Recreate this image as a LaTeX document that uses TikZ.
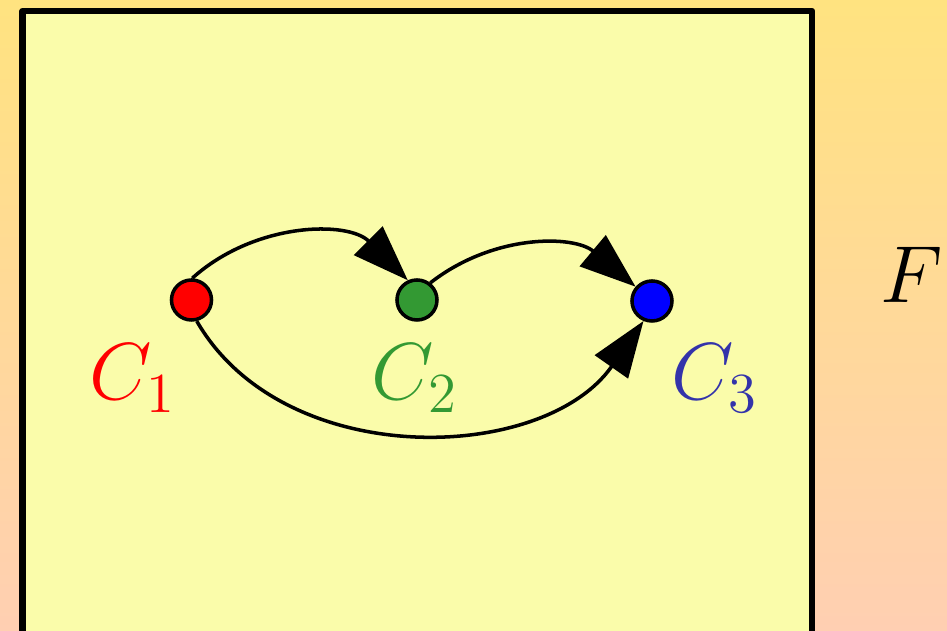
\documentclass[tikz,border=0pt]{standalone}
\usepackage{fix-cm}
\usetikzlibrary{
    positioning,
    arrows.meta
}
\definecolor{bgtop}{RGB}{255,227,128}
\definecolor{bgbottom}{RGB}{255,207,178}
\definecolor{panelfill}{RGB}{250,252,170}
\definecolor{darkgreen}{RGB}{51,153,51}
\definecolor{darkblue}{RGB}{51,51,170}

\begin{document}
\begin{tikzpicture}[
    x=0.01cm, y=0.01cm,
    dot/.style={
        draw, circle, line width=1pt, minimum size=0.40cm, inner sep=0pt
    },
    tag/.style={
        font=\fontsize{23}{27}\selectfont, inner sep=0pt, anchor=base
    },
    frame/.style={
        draw, line width=1.8pt, fill=panelfill, line join=round
    },
    arrow/.style={-{Triangle[length=0.56cm,width=0.40cm]}, line width=1pt}
]

% ============================== BACKGROUND ==============================
\shade[top color=bgtop, bottom color=bgbottom] (0,0) rectangle (947,631);
\useasboundingbox (0,0) rectangle (947,631);

% Panel runs off the lower edge
\begin{scope}
    \clip (0,0) rectangle (947,631);
    \draw[frame] (22.5,620) rectangle (812,-40);
\end{scope}

% ============================== COMPONENTS ==============================
\node[dot, fill=red] (comp1) at (191.5,331) {};
\node[dot, fill=darkgreen] (comp2) at (417,331) {};
\node[dot, fill=blue] (comp3) at (652,330) {};

\node[tag, text=red] (tag1) at (133,231) {$C_1$};
\node[tag, text=darkgreen] (tag2) at (415,231) {$C_2$};
\node[tag, text=darkblue] (tag3) at (715,231) {$C_3$};
\node[tag] (tag_f) at (912,328) {$F$};

% ============================== MAPS ==============================
\draw[arrow] (comp1.88) to[out=42,in=135] (comp2.115);
\draw[arrow] (comp2.52) to[out=38,in=140] (comp3.139);
\draw[arrow] (comp1.-76) to[out=-60,in=235] (comp3.-113);

\end{tikzpicture}
\end{document}
